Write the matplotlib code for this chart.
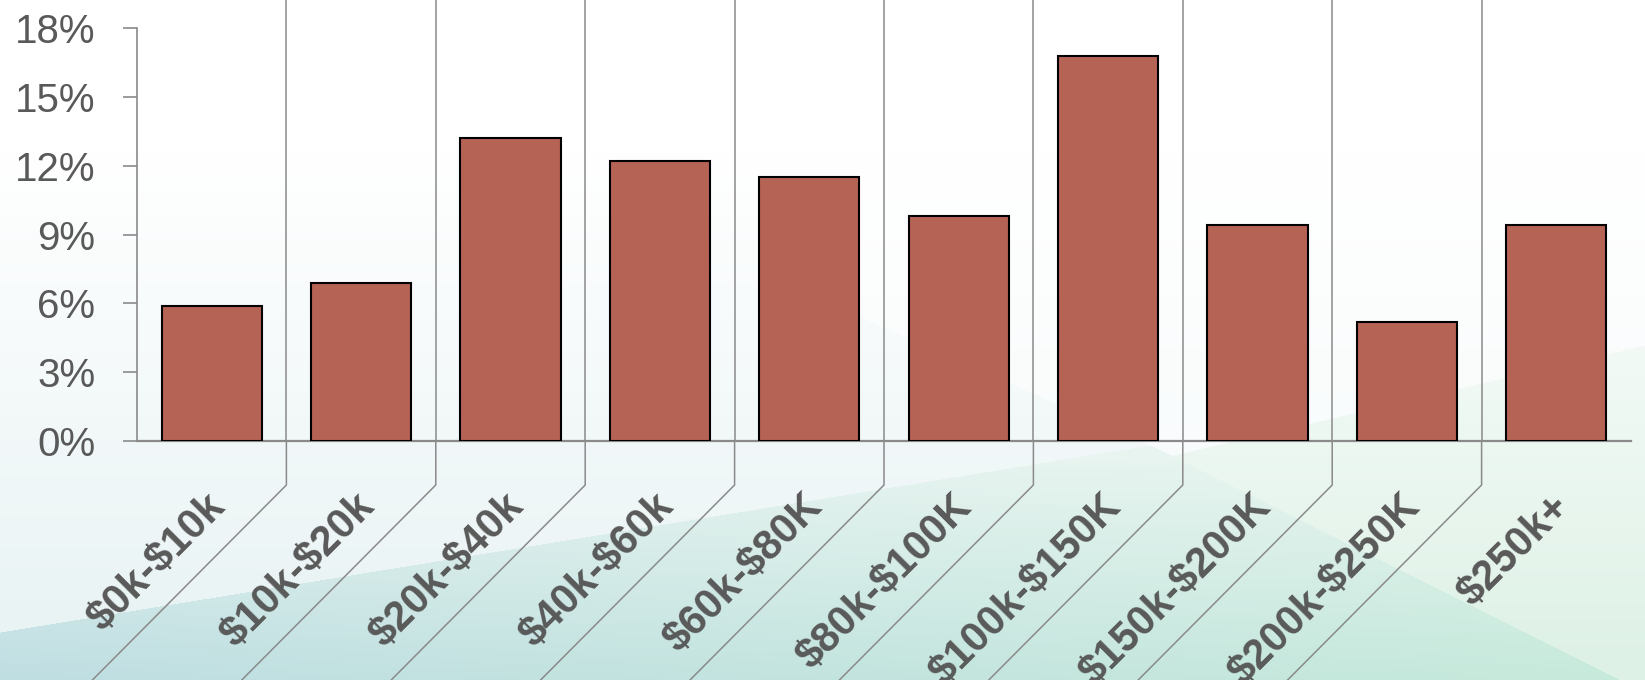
import numpy as np
import matplotlib
matplotlib.use("Agg")
import matplotlib.pyplot as plt
from matplotlib.colors import to_rgb
from matplotlib.transforms import ScaledTranslation

# data
categories = ["$0k-$10k", "$10k-$20k", "$20k-$40k", "$40k-$60k", "$60k-$80K",
              "$80k-$100K", "$100k-$150K", "$150k-$200K", "$200k-$250K", "$250k+"]
shares = [5.9, 6.9, 13.2, 12.2, 11.5, 9.8, 16.8, 9.4, 5.2, 9.4]
yticks = [0, 3, 6, 9, 12, 15, 18]

bar_color = "#b56354"
line_color = "#8a8a8a"
text_color = "#595959"

plt.rcParams["font.family"] = ["Liberation Sans", "DejaVu Sans"]

W, H = 1645, 680
fig = plt.figure(figsize=(W / 100, H / 100), dpi=100)

# background: soft white -> teal/green landscape
yy, xx = np.mgrid[0:H, 0:W].astype(float)


def lerp(c1, c2, t):
    c1 = np.asarray(c1)
    c2 = np.asarray(c2)
    if c1.ndim == 1:
        c1 = c1[None, None, :]
    if c2.ndim == 1:
        c2 = c2[None, None, :]
    return c1 + (c2 - c1) * t[..., None]


t = np.clip((yy - 150) / (H - 150), 0, 1)
img = lerp(to_rgb("#ffffff"), to_rgb("#e7f2f3"), t)

# lighter wedge on the right half
wedge = (xx > 800) & (yy < 290 + 0.443 * (xx - 800))
wedge_col = lerp(to_rgb("#ffffff"), to_rgb("#e7f2f3"), t * 0.45)
img[wedge] = wedge_col[wedge]

# light green hill on the right
hill_top = 500 + (345 - 500) * (xx - 980) / (W - 980)
hill = (yy > hill_top) & (xx > 980)
th = np.clip((yy - 340) / 340, 0, 1)
hill_col = lerp(to_rgb("#f3faf6"), to_rgb("#ddf1e6"), th)
img[hill] = hill_col[hill]

# main teal mountain
peak_x, peak_y = 1150, 445
mtop = np.where(xx < peak_x,
                632 + (peak_y - 632) * xx / peak_x,
                peak_y + (692 - peak_y) * (xx - peak_x) / (W - peak_x))
mnt = yy > mtop
tm = np.clip((yy - 440) / 240, 0, 1)
left_col = lerp(to_rgb("#e9f4f3"), to_rgb("#bfdee2"), tm)
right_col = lerp(to_rgb("#ebf6f0"), to_rgb("#c6eadb"), tm)
mnt_col = left_col + (right_col - left_col) * (xx / W)[..., None]
img[mnt] = mnt_col[mnt]

bg = fig.add_axes([0, 0, 1, 1], zorder=0)
bg.imshow(img, aspect="auto", extent=[0, W, H, 0])
bg.axis("off")

# main chart
ax = fig.add_axes([137 / W, (H - 441) / H, (1631 - 137) / W, 441 / H], zorder=1)
ax.patch.set_alpha(0)

x = np.arange(len(categories))
ax.bar(x, shares, width=0.67, color=bar_color, edgecolor="black", linewidth=1.5, zorder=3)

ax.set_xlim(-0.5, len(categories) - 0.5)
ax.set_ylim(0, 18 + 28.3 / 22.91)

for s in ["top", "right"]:
    ax.spines[s].set_visible(False)
ax.spines["left"].set_bounds(0, 18)
ax.spines["left"].set_color(line_color)
ax.spines["left"].set_linewidth(1.2)
ax.spines["bottom"].set_color(line_color)
ax.spines["bottom"].set_linewidth(1.6)

ax.set_yticks(yticks)
ax.set_yticklabels([f"{v}%" for v in yticks])
ax.tick_params(axis="y", direction="out", length=10, width=1.2, color=line_color,
               pad=20, labelsize=29, labelcolor=text_color)

# separators between categories, above and below the axis
xax = ax.get_xaxis_transform()
drop = 44 / 441
diag_y = -240 / 441
diag_dx = 195 / 149.4
for b in x[:-1] + 0.5:
    ax.plot([b, b], [0, 1], transform=xax, color=line_color, lw=1.1, zorder=2, clip_on=False)
    ax.plot([b, b, b - diag_dx], [0, -drop, diag_y], transform=xax, color=line_color,
            lw=1.1, zorder=2, clip_on=False)

ax.set_xticks(x)
ax.set_xticklabels([c.replace("$", r"\$") for c in categories], rotation=45, ha="right",
                   va="center", rotation_mode="anchor", fontsize=30, fontweight="bold",
                   color=text_color)
ax.tick_params(axis="x", length=0, pad=43)
offset = ScaledTranslation(0.07, 0, fig.dpi_scale_trans)
for lab in ax.get_xticklabels():
    lab.set_transform(lab.get_transform() + offset)

fig.savefig("out.png", dpi=100)
